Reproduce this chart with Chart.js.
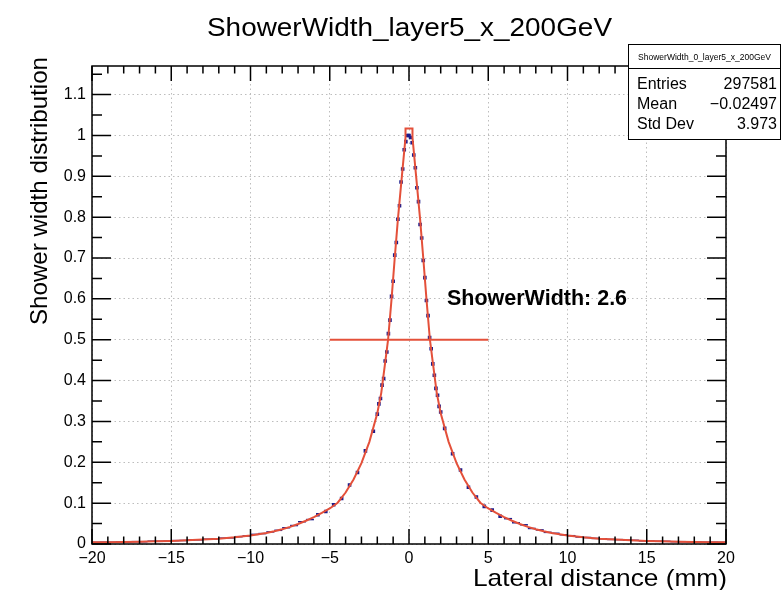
<!DOCTYPE html>
<html>
<head>
<meta charset="utf-8">
<title>ShowerWidth_layer5_x_200GeV</title>
<script src="https://cdn.jsdelivr.net/npm/chart.js@4.4.0/dist/chart.umd.min.js"></script>
<style>
  html, body { margin: 0; padding: 0; background: #fff; }
  canvas { display: block; }
</style>
</head>
<body>
<canvas id="showerChart" width="782" height="590"></canvas>
<script>
// histogram points (blue markers), lateral distance in mm
const blueX = [
  -19.75, -19.25, -18.75, -18.25, -17.75, -17.25, -16.75, -16.25, -15.75, -15.25,
  -14.75, -14.25, -13.75, -13.25, -12.75, -12.25, -11.75, -11.25, -10.75, -10.25,
  -9.75, -9.25, -8.75, -8.25, -7.75, -7.25, -6.75, -6.25, -5.75, -5.25,
  -4.75, -4.25, -3.75, -3.25, -2.75, -2.25,
  -2.0, -1.9, -1.8, -1.7, -1.6, -1.5, -1.4, -1.3, -1.2, -1.1,
  -1.0, -0.9, -0.8, -0.7, -0.6, -0.5, -0.4, -0.3, -0.2, -0.1,
  0.0, 0.1, 0.2, 0.3, 0.4, 0.5, 0.6, 0.7, 0.8, 0.9,
  1.0, 1.1, 1.2, 1.3, 1.4, 1.5, 1.6, 1.7, 1.8, 1.9, 2.0,
  2.25, 2.75, 3.25, 3.75, 4.25, 4.75, 5.25, 5.75, 6.25, 6.75,
  7.25, 7.75, 8.25, 8.75, 9.25, 9.75, 10.25, 10.75, 11.25, 11.75,
  12.25, 12.75, 13.25, 13.75, 14.25, 14.75, 15.25, 15.75, 16.25, 16.75,
  17.25, 17.75, 18.25, 18.75, 19.25, 19.75
];
const blueY = [
  0.0040, 0.0045, 0.0043, 0.0050, 0.0049, 0.0057, 0.0056, 0.0068, 0.0066, 0.0072,
  0.0083, 0.0086, 0.0098, 0.0102, 0.0118, 0.0122, 0.0143, 0.0151, 0.0179, 0.0197,
  0.0235, 0.0255, 0.0296, 0.0335, 0.0398, 0.0452, 0.0545, 0.0598, 0.0715, 0.0795,
  0.0962, 0.1115, 0.1445, 0.175, 0.228, 0.276,
  0.318, 0.343, 0.356, 0.389, 0.405, 0.448, 0.470, 0.515, 0.548, 0.606,
  0.643, 0.707, 0.738, 0.795, 0.828, 0.886, 0.918, 0.965, 0.985, 1.0,
  1.0, 0.995, 0.982, 0.952, 0.921, 0.872, 0.838, 0.782, 0.749, 0.694,
  0.652, 0.596, 0.559, 0.505, 0.478, 0.441, 0.413, 0.381, 0.364, 0.337, 0.323,
  0.283, 0.221, 0.181, 0.139, 0.115, 0.092, 0.083, 0.068, 0.062, 0.052,
  0.047, 0.038, 0.0345, 0.0285, 0.0262, 0.0226, 0.0203, 0.0172, 0.0158, 0.0137,
  0.0127, 0.0112, 0.0107, 0.0093, 0.0090, 0.0078, 0.0076, 0.0066, 0.0065, 0.0057,
  0.0056, 0.0050, 0.0049, 0.0044, 0.0044, 0.0040
];

// fitted curve (red)
const fitX = [
  -20, -19, -18, -17, -16, -15, -14, -13, -12, -11, -10, -9.5, -9, -8.5, -8,
  -7.5, -7, -6.5, -6, -5.5, -5, -4.5, -4, -3.5, -3, -2.5, -2, -1.75, -1.5, -1.32,
  -1.1, -0.9, -0.7, -0.45, -0.22, -0.22, 0.22, 0.22,
  0.45, 0.7, 0.9, 1.1, 1.32, 1.5, 1.75, 2, 2.5, 3, 3.5, 4, 4.5, 5, 5.5, 6,
  6.5, 7, 7.5, 8, 8.5, 9, 9.5, 10, 11, 12, 13, 14, 15, 16, 17, 18, 19, 20
];
const fitY = [
  0.004, 0.0044, 0.0049, 0.0057, 0.0065, 0.0075, 0.009, 0.011, 0.013, 0.0163, 0.021, 0.024, 0.027, 0.031, 0.036,
  0.042, 0.049, 0.057, 0.066, 0.076, 0.087, 0.101, 0.126, 0.158, 0.198, 0.25, 0.32, 0.37, 0.445, 0.5,
  0.6, 0.7, 0.795, 0.9, 0.995, 1.017, 1.017, 0.995,
  0.9, 0.795, 0.7, 0.6, 0.5, 0.445, 0.37, 0.32, 0.25, 0.198, 0.158, 0.126, 0.101, 0.087, 0.076, 0.066,
  0.057, 0.049, 0.042, 0.036, 0.031, 0.027, 0.024, 0.021, 0.0163, 0.013, 0.011, 0.009, 0.0075, 0.0065, 0.0057, 0.0049, 0.0044, 0.004
];

// width marker at half maximum
const fwhmX = [-5, 5];
const fwhmY = [0.5, 0.5];

const xTicks = [-20, -15, -10, -5, 0, 5, 10, 15, 20];
const yTicks = [0, 0.1, 0.2, 0.3, 0.4, 0.5, 0.6, 0.7, 0.8, 0.9, 1.0, 1.1];
const yMax = 1.17;

const statsTitle = "ShowerWidth_0_layer5_x_200GeV";
const statsLabels = ["Entries", "Mean", "Std Dev"];
const statsValues = ["297581", "\u22120.02497", "3.973"];

const FONT = "'Liberation Sans', Arial, Helvetica, sans-serif";
const RED = "#e4503a";
const BLUE = "#1c1c8c";

const toPts = (xs, ys) => xs.map((x, i) => ({ x, y: ys[i] }));

// text squeezed/stretched to a measured width
function fitText(ctx, text, x, y, size, width, align, bold) {
  ctx.save();
  ctx.font = (bold ? "bold " : "") + size + "px " + FONT;
  const w = ctx.measureText(text).width;
  const sx = width ? width / w : 1;
  ctx.translate(x, y);
  ctx.scale(sx, 1);
  ctx.textAlign = align;
  ctx.textBaseline = "alphabetic";
  ctx.fillStyle = "#000";
  ctx.fillText(text, 0, 0);
  ctx.restore();
}

const rootFrame = {
  id: "rootFrame",
  afterDraw(chart) {
    const { ctx, chartArea: a, scales } = chart;
    const xs = scales.x, ys = scales.y;

    // frame
    ctx.save();
    ctx.strokeStyle = "#000";
    ctx.lineWidth = 1.5;
    ctx.strokeRect(a.left, a.top, a.right - a.left, a.bottom - a.top);

    // inner ticks on all four sides
    ctx.lineWidth = 1.5;
    ctx.beginPath();
    for (let v = -20; v <= 20; v++) {
      const px = xs.getPixelForValue(v);
      const len = v % 5 === 0 ? 15 : 7.5;
      ctx.moveTo(px, a.bottom); ctx.lineTo(px, a.bottom - len);
      ctx.moveTo(px, a.top); ctx.lineTo(px, a.top + len);
    }
    for (let k = 0; k * 0.05 <= yMax; k++) {
      const py = ys.getPixelForValue(k * 0.05);
      const len = k % 2 === 0 ? 19 : 10;
      ctx.moveTo(a.left, py); ctx.lineTo(a.left + len, py);
      ctx.moveTo(a.right, py); ctx.lineTo(a.right - len, py);
    }
    ctx.stroke();
    ctx.restore();

    // titles
    fitText(ctx, "ShowerWidth_layer5_x_200GeV", 409.5, 36, 26, 405, "center");
    fitText(ctx, "Lateral distance (mm)", 727, 586, 24, 254, "right");
    ctx.save();
    ctx.translate(47, 57);
    ctx.rotate(-Math.PI / 2);
    fitText(ctx, "Shower width distribution", 0, 0, 24, 268, "right");
    ctx.restore();

    // annotation
    fitText(ctx, "ShowerWidth: 2.6", xs.getPixelForValue(2.4), ys.getPixelForValue(0.585), 22, 180, "left", true);

    // stats box
    const bx = 628, by = 44, bw = 153, bh = 96;
    ctx.save();
    ctx.fillStyle = "#fff";
    ctx.fillRect(bx, by, bw, bh);
    ctx.strokeStyle = "#000";
    ctx.lineWidth = 1;
    ctx.strokeRect(bx + 0.5, by + 0.5, bw - 1, bh - 1);
    ctx.beginPath();
    ctx.moveTo(bx, 68.5); ctx.lineTo(bx + bw, 68.5);
    ctx.stroke();
    ctx.restore();
    fitText(ctx, statsTitle, bx + bw / 2, 60, 8.5, 0, "center");
    statsLabels.forEach((lab, i) => {
      const yy = 89 + i * 20;
      fitText(ctx, lab, 637, yy, 16, 0, "left");
      fitText(ctx, statsValues[i], 777, yy, 16, 0, "right");
    });
  }
};

new Chart(document.getElementById("showerChart"), {
  type: "scatter",
  data: {
    datasets: [
      {
        label: "fit",
        data: toPts(fitX, fitY),
        showLine: true,
        borderColor: RED,
        borderWidth: 2,
        pointRadius: 0,
        tension: 0,
        order: 0,
      },
      {
        label: "width",
        data: toPts(fwhmX, fwhmY),
        showLine: true,
        borderColor: RED,
        borderWidth: 1.8,
        pointRadius: 0,
        order: 0,
      },
      {
        label: "histogram",
        data: toPts(blueX, blueY),
        showLine: false,
        pointStyle: (c) => (Math.abs(blueX[c.dataIndex]) > 6 ? "line" : "rect"),
        pointRadius: (c) => (Math.abs(blueX[c.dataIndex]) > 6 ? 4 : 1.5),
        pointBackgroundColor: BLUE,
        pointBorderColor: BLUE,
        pointBorderWidth: 1.5,
        order: 1,
      },
    ],
  },
  options: {
    responsive: false,
    animation: false,
    devicePixelRatio: 1,
    layout: { padding: { top: 66, right: 56, bottom: 0, left: 0 } },
    plugins: {
      legend: { display: false },
      tooltip: { enabled: false },
      title: { display: false },
    },
    scales: {
      x: {
        type: "linear",
        min: -20,
        max: 20,
        afterFit: (s) => { s.height = 46; },
        afterBuildTicks: (s) => { s.ticks = xTicks.map((v) => ({ value: v })); },
        grid: { color: "#bdbdbd", lineWidth: 1, drawTicks: false },
        border: { display: false, dash: [1.5, 3] },
        ticks: {
          padding: 5,
          maxRotation: 0,
          color: "#000",
          font: { family: FONT, size: 16 },
          callback: (v) => String(v).replace("-", "\u2212"),
        },
      },
      y: {
        type: "linear",
        min: 0,
        max: yMax,
        afterFit: (s) => { s.width = 92; },
        afterBuildTicks: (s) => { s.ticks = yTicks.map((v) => ({ value: v })); },
        grid: { color: "#bdbdbd", lineWidth: 1, drawTicks: false },
        border: { display: false, dash: [1.5, 3] },
        ticks: {
          padding: 6,
          color: "#000",
          font: { family: FONT, size: 16 },
          callback: (v) => String(Math.round(v * 10) / 10),
        },
      },
    },
  },
  plugins: [rootFrame],
});
</script>
</body>
</html>
